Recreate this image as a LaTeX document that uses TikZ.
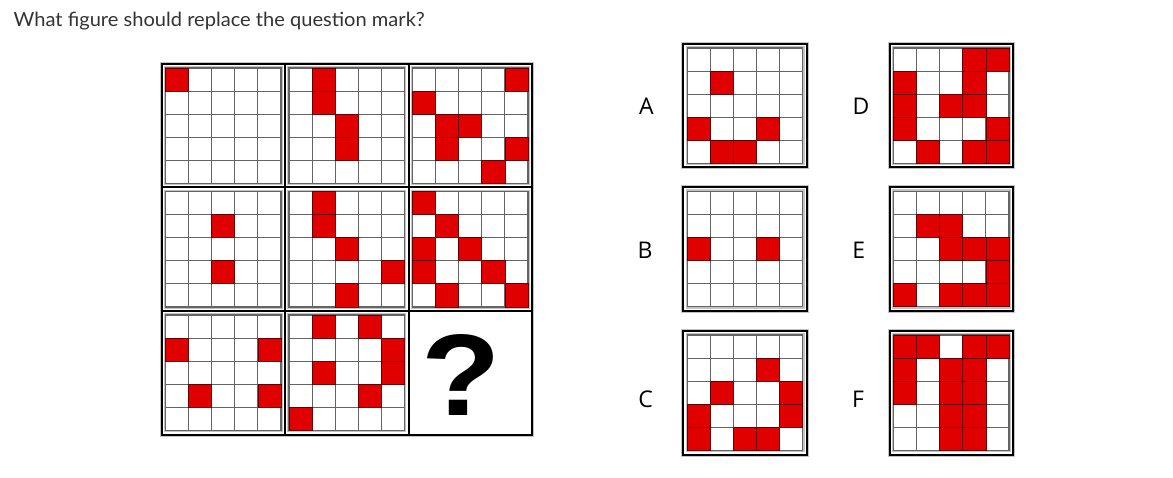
\documentclass[tikz,border=0pt]{standalone}
\usepackage{fontspec}
\setmainfont{Open Sans}
\newfontfamily\titlefont{Lato}
\newfontfamily\qfont{Liberation Sans}
\definecolor{cellred}{RGB}{224,0,0}
\definecolor{gridgray}{RGB}{100,100,100}
\definecolor{rimgray}{RGB}{195,195,195}
\tikzset{
  cell/.style={fill=cellred,draw=red!40!black,line width=0.8pt},
  gridline/.style={draw=gridgray,line width=1.1pt},
  gridrim/.style={draw=rimgray,line width=1.2pt},
  frame/.style={draw=black,line width=2pt},
  optlabel/.style={font=\fontsize{23}{23}\selectfont,anchor=base,inner sep=0pt},
}
% 5x5 tile, #1,#2 = top-left corner of its frame, #3 = red cells as row/col
\newcommand{\tile}[3]{%
  \begin{scope}[shift={(#1+4,#2+4)}]
    \fill[white] (0,0) rectangle (115.5,115.5);
    \draw[gridrim] (-1.2,-1.2) rectangle (116.7,116.7);
    \foreach \k in {1,...,4} {
      \draw[gridline] ({\k*23.1},0) -- ({\k*23.1},115.5);
      \draw[gridline] (0,{\k*23.1}) -- (115.5,{\k*23.1});
    }
    \draw[gridline] (0,0) rectangle (115.5,115.5);
    \foreach \r/\c in {#3}
      \path[cell] ({(\c-1)*23.1},{(\r-1)*23.1}) rectangle ++(23.1,23.1);
  \end{scope}}
% answer tile with its own frame
\newcommand{\option}[3]{%
  \draw[rimgray,line width=1pt] (#1-1.5,#2-1.5) rectangle (#1+125,#2+125);
  \draw[frame] (#1,#2) rectangle (#1+123.5,#2+123.5);
  \tile{#1}{#2}{#3}}

\begin{document}
\begin{tikzpicture}[x=1pt,y=-1pt]
  \useasboundingbox[fill=white] (0,0) rectangle (1173,478);

  \node[font=\titlefont\fontsize{19.5}{19.5}\selectfont,text=black!80,anchor=base west,inner sep=0pt]
    (title) at (13.5,26.7) {\scalebox{1.03}[1]{What figure should replace the question mark?}};

  % the matrix
  \tile{161.5}{64}{1/1}
  \tile{285}{64}{1/2,2/2,3/3,4/3}
  \tile{408.5}{64}{1/5,2/1,3/2,3/3,4/2,4/5,5/4}
  \tile{161.5}{187.5}{2/3,4/3}
  \tile{285}{187.5}{1/2,2/2,3/3,4/5,5/3}
  \tile{408.5}{187.5}{1/1,2/2,3/1,3/3,4/1,4/4,5/2,5/5}
  \tile{161.5}{311}{2/1,2/5,4/2,4/5}
  \tile{285}{311}{1/2,1/4,2/5,3/2,3/5,4/4,5/1}
  \draw[rimgray,line width=1pt] (160,62.5) rectangle (533.5,436);
  \draw[frame] (161.5,64) rectangle (532,434.5);
  \draw[frame] (285,64) -- (285,434.5);
  \draw[frame] (408.5,64) -- (408.5,434.5);
  \draw[frame] (161.5,187.5) -- (532,187.5);
  \draw[frame] (161.5,311) -- (532,311);
  \node[font=\qfont\bfseries\fontsize{116}{116}\selectfont,inner sep=0pt]
    (qmark) at (461,375) {\scalebox{1.12}[1]{?}};

  % the answers
  \option{683.3}{44}{2/2,4/1,4/4,5/2,5/3}
  \option{683.3}{187.3}{3/1,3/4}
  \option{683.3}{331}{2/4,3/2,3/5,4/1,4/5,5/1,5/3,5/4}
  \option{889.5}{44}{1/4,1/5,2/1,2/4,3/1,3/3,3/4,4/1,4/5,5/2,5/4,5/5}
  \option{889.5}{187.3}{2/2,2/3,3/3,3/4,3/5,4/5,5/1,5/3,5/4,5/5}
  \option{889.5}{331}{1/1,1/2,1/4,1/5,2/1,2/3,2/4,3/1,3/3,3/4,4/3,4/4,5/3,5/4}
  \node[optlabel] (labA) at (646.5,115) {A};
  \node[optlabel] (labB) at (645,259) {B};
  \node[optlabel] (labC) at (645.5,407.5) {C};
  \node[optlabel] (labD) at (861,115) {D};
  \node[optlabel] (labE) at (858.8,259) {E};
  \node[optlabel] (labF) at (858,407.5) {F};
\end{tikzpicture}
\end{document}
